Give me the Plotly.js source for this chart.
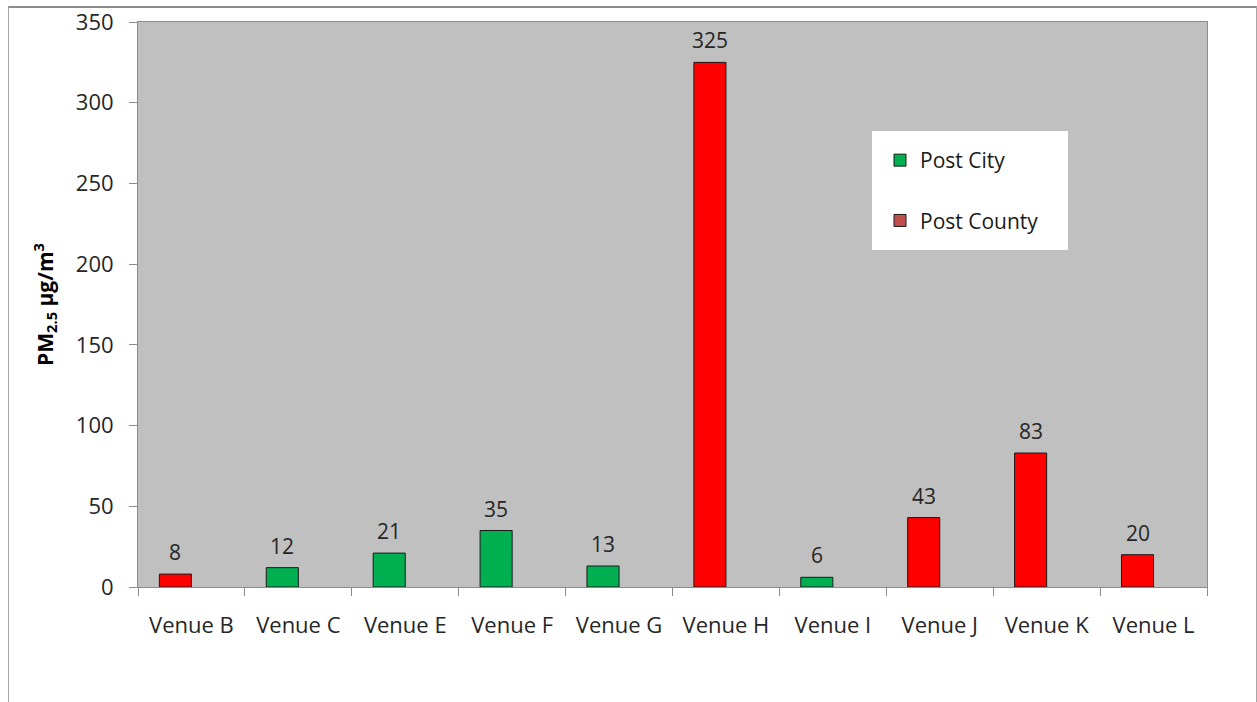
<!DOCTYPE html>
<html>
<head>
<meta charset="utf-8">
<script src="https://cdn.plot.ly/plotly-3.0.1.min.js"></script>
<style>
  html, body { margin: 0; padding: 0; background: #ffffff; }
  #wrap { position: relative; width: 1257px; height: 702px; overflow: hidden; }
  #chart { position: absolute; left: 0; top: 0; width: 1257px; height: 702px; }
  #frame {
    position: absolute; left: 8px; top: 6px; width: 1247px; height: 720px;
    border-left: 1px solid #a6a6a6; border-right: 1px solid #a6a6a6; border-top: 2px solid #8c8c8c;
    pointer-events: none;
  }
</style>
</head>
<body>
<div id="wrap">
  <div id="chart"></div>
  <div id="frame"></div>
</div>
<script>
// PM2.5 concentrations measured at each venue after the smoke-free ordinances
const venues = ['Venue B', 'Venue C', 'Venue E', 'Venue F', 'Venue G',
                'Venue H', 'Venue I', 'Venue J', 'Venue K', 'Venue L'];
const pm25 = [8, 12, 21, 35, 13, 325, 6, 43, 83, 20];
const venueSite = ['County', 'City', 'City', 'City', 'City',
                   'County', 'City', 'County', 'County', 'County'];
const seriesNames = ['Post City', 'Post County'];
const yTicks = [0, 50, 100, 150, 200, 250, 300, 350];

const GREEN = '#00B050';
const RED = '#FF0000';
const COUNTY_KEY = '#C0504D';
const FONT = 'Open Sans, sans-serif';

const W = 1257, H = 702;
const M = { l: 138, r: 50, t: 22, b: 115 };
const BARGAP = 0.40;

const cityVals = pm25.map((v, i) => venueSite[i] === 'City' ? v : null);
const countyVals = pm25.map((v, i) => venueSite[i] === 'County' ? v : null);

const lineStyle = { color: '#1a1a1a', width: 1 };

const traces = [
  {
    type: 'bar', name: seriesNames[0], x: venues, y: cityVals,
    offsetgroup: 'a', legendgroup: 'city',
    marker: { color: GREEN, line: lineStyle },
    hoverinfo: 'x+y'
  },
  {
    type: 'bar', name: seriesNames[1], x: venues, y: countyVals,
    offsetgroup: 'a', legendgroup: 'county', showlegend: false,
    marker: { color: RED, line: lineStyle },
    hoverinfo: 'x+y'
  },
  {
    // empty second series of the clustered layout; supplies the legend key
    type: 'bar', name: seriesNames[1], x: venues, y: venues.map(() => null),
    offsetgroup: 'b', legendgroup: 'county',
    marker: { color: COUNTY_KEY, line: lineStyle },
    hoverinfo: 'skip'
  }
];

// value labels sit above the left slot of each category cluster
const plotW = W - M.l - M.r;
const slotShift = -(plotW / venues.length) * (1 - BARGAP) / 4;
const valueLabels = venues.map((v, i) => ({
  x: v, y: pm25[i], xref: 'x', yref: 'y',
  text: String(pm25[i]), showarrow: false,
  xanchor: 'center', yanchor: 'bottom',
  xshift: slotShift, yshift: 6,
  font: { family: FONT, size: 21, color: '#262626' }
}));

const px2x = px => (px - M.l) / plotW;
const px2y = py => (H - M.b - py) / (H - M.t - M.b);

const layout = {
  width: W, height: H,
  margin: M,
  paper_bgcolor: 'rgba(0,0,0,0)',
  plot_bgcolor: '#C0C0C0',
  barmode: 'group',
  bargap: BARGAP,
  bargroupgap: 0,
  font: { family: FONT, size: 21, color: '#262626' },
  xaxis: {
    type: 'category',
    showline: true, linecolor: '#8c8c8c', linewidth: 1, mirror: true,
    ticks: 'outside', tickson: 'boundaries', ticklen: 8, tickcolor: '#8c8c8c',
    ticklabelstandoff: 19,
    tickfont: { family: FONT, size: 22, color: '#262626' },
    showgrid: false, zeroline: false, fixedrange: true
  },
  yaxis: {
    range: [0, 350], tickvals: yTicks, ticktext: yTicks.map(String),
    showline: true, linecolor: '#8c8c8c', linewidth: 1, mirror: true,
    ticks: 'outside', ticklen: 8, tickcolor: '#8c8c8c',
    ticklabelstandoff: 11,
    tickfont: { family: FONT, size: 22, color: '#262626' },
    showgrid: false, zeroline: false, fixedrange: true,
    title: {
      text: 'PM<sub>2.5</sub> µg/m<sup>3</sup>',
      font: { family: FONT, size: 21, color: '#000000', weight: 'bold' },
      standoff: 16
    }
  },
  legend: {
    x: px2x(880), y: px2y(140), xanchor: 'left', yanchor: 'top',
    bgcolor: 'rgba(0,0,0,0)', borderwidth: 0,
    font: { family: FONT, size: 21, color: '#1a1a1a' },
    tracegroupgap: 30, traceorder: 'grouped',
    itemclick: false, itemdoubleclick: false
  },
  shapes: [
    {
      type: 'rect', xref: 'paper', yref: 'paper', layer: 'above',
      x0: px2x(872), x1: px2x(1068), y0: px2y(250), y1: px2y(131),
      fillcolor: '#ffffff', line: { width: 0 }
    }
  ],
  annotations: valueLabels,
  showlegend: true
};

Plotly.newPlot('chart', traces, layout, { displayModeBar: false });
</script>
</body>
</html>
